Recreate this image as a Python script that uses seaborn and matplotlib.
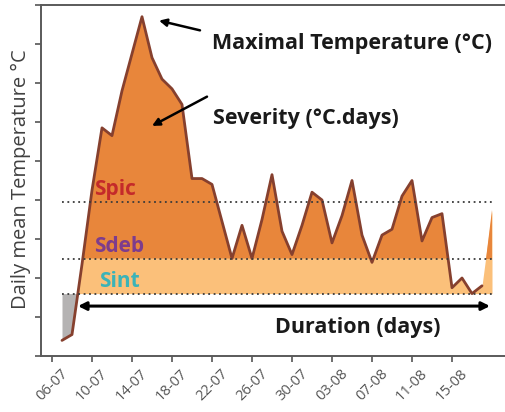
import numpy as np
import pandas as pd
import matplotlib
matplotlib.use("Agg")
import matplotlib.pyplot as plt
import seaborn as sns

# Daily mean temperature during the heat episode (07-07 to 19-08)
dates = pd.date_range("2019-07-07", "2019-08-19", freq="D")
temperature = [
    16.8, 17.1, 20.7, 24.5, 27.7, 27.3, 29.6, 31.5, 33.4, 31.3,
    30.2, 29.7, 28.9, 25.1, 25.1, 24.8, 22.9, 21.0, 22.7, 21.0,
    23.0, 25.3, 22.4, 21.2, 22.7, 24.4, 24.0, 21.8, 23.2, 25.0,
    22.2, 20.8, 22.2, 22.5, 24.2, 25.0, 21.9, 23.1, 23.3, 19.5,
    20.0, 19.2, 19.6, 23.5,
]

# Severity thresholds (°C)
s_pic = 23.9
s_deb = 21.0
s_int = 19.2

tick_labels = ["06-07", "10-07", "14-07", "18-07", "22-07", "26-07",
               "30-07", "03-08", "07-08", "11-08", "15-08"]

df = pd.DataFrame({"date": dates, "temp": temperature})
origin = pd.Timestamp("2019-07-06")
df["day"] = (df["date"] - origin).dt.days

sns.set_theme(style="white")
plt.rcParams["font.family"] = ["Open Sans", "DejaVu Sans"]

fig = plt.figure(figsize=(5.06, 4.12), dpi=100)
ax = fig.add_axes([41 / 506, 56 / 412, 465 / 506, 351 / 412])

x = df["day"].to_numpy()
y = df["temp"].to_numpy()

dark = "#E8863B"
light = "#FBC07A"
edge = "#86402E"

# Below the initiation threshold
early = x <= 4
ax.fill_between(x[early], y[early], s_int, where=y[early] < s_int,
                interpolate=True, color="#B5B3B3", lw=0)
# Above the initiation threshold
ax.fill_between(x, s_int, y, where=y >= s_int - 0.05,
                interpolate=True, color=light, lw=0)
# Above the onset threshold
ax.fill_between(x, s_deb, y, where=y > s_deb,
                interpolate=True, color=dark, lw=0)

# Temperature curve (last day only shaded)
sns.lineplot(x=x[:-1], y=y[:-1], ax=ax, color=edge, lw=2.0)

for level in (s_pic, s_deb, s_int):
    ax.hlines(level, x[0], x[-1], colors="#3a3a3a", linestyles=(0, (1, 2)), lw=1.3)

# Duration arrow
ax.annotate("", xy=(2.6, 18.56), xytext=(43.8, 18.56),
            arrowprops=dict(arrowstyle="<|-|>", color="black", lw=2.2,
                            mutation_scale=12, shrinkA=0, shrinkB=0))
ax.text(30.6, 17.45, "Duration (days)", fontsize=15.5, fontweight="bold",
        color="#1a1a1a", ha="center", va="center")

ax.text(4.2, 24.55, "Spic", fontsize=15, fontweight="bold", color="#C42A2A", va="center")
ax.text(4.2, 21.6, "Sdeb", fontsize=15, fontweight="bold", color="#7E3C8C", va="center")
ax.text(4.7, 19.8, "Sint", fontsize=15, fontweight="bold", color="#3BB3B8", va="center")

# Callouts
ax.annotate("", xy=(10.7, 33.2), xytext=(14.8, 32.7),
            arrowprops=dict(arrowstyle="-|>", color="black", lw=1.8, mutation_scale=11,
                            shrinkA=0, shrinkB=0))
ax.text(16.0, 32.05, "Maximal Temperature (°C)", fontsize=15.5, fontweight="bold",
        color="#1a1a1a", ha="left", va="center")
ax.annotate("", xy=(10.0, 27.8), xytext=(15.5, 29.3),
            arrowprops=dict(arrowstyle="-|>", color="black", lw=1.8, mutation_scale=11,
                            shrinkA=0, shrinkB=0))
ax.text(16.1, 28.2, "Severity (°C.days)", fontsize=15.5, fontweight="bold",
        color="#1a1a1a", ha="left", va="center")

ax.set_xlim(-1.1, 45.4)
ax.set_ylim(16, 34)
ax.set_yticks(np.arange(16, 35, 2))
ax.set_yticklabels([])
ax.set_xticks(np.arange(0, 41, 4))
ax.set_xticklabels(tick_labels, rotation=45, ha="center",
                   fontsize=10.5, color="#555555")
ax.set_xlabel("")
ax.set_ylabel("Daily mean Temperature °C", fontsize=14.5, color="#404040")
ax.yaxis.set_label_coords(-0.021, 0.505)

ax.tick_params(axis="both", which="major", direction="out", length=4, width=1.2,
               color="#555555", bottom=True, left=True, pad=3)
for side in ("left", "bottom", "top"):
    ax.spines[side].set_color("#5a5a5a")
    ax.spines[side].set_linewidth(1.4)
ax.spines["right"].set_visible(False)

fig.savefig("out.png", dpi=100)
